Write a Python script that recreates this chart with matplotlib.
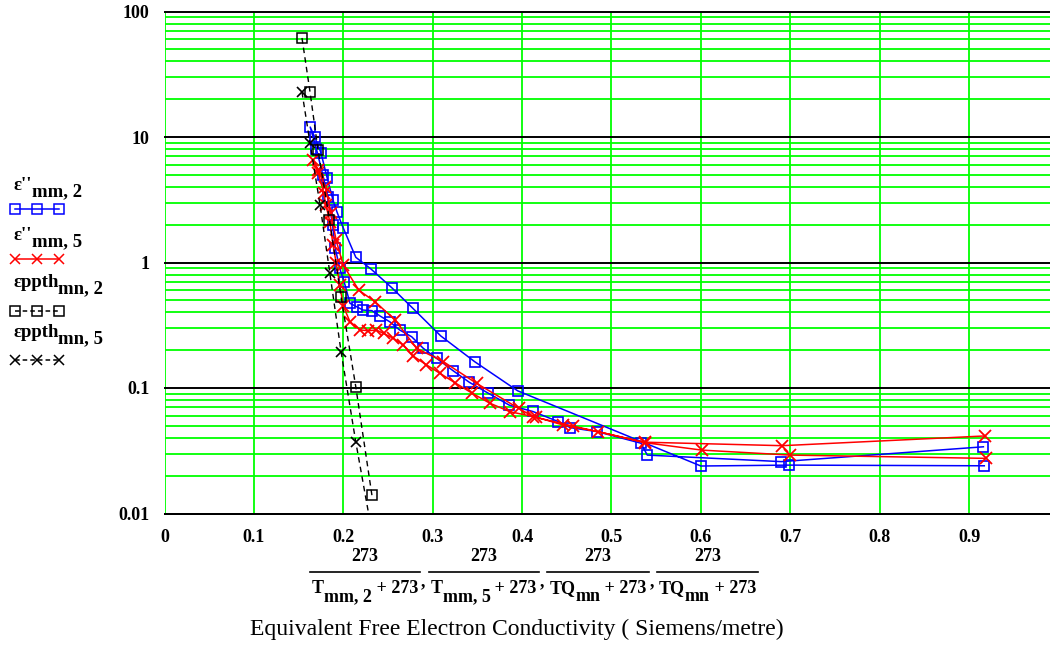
import matplotlib.pyplot as plt
from matplotlib.lines import Line2D
from matplotlib.ticker import FixedLocator, NullFormatter, NullLocator

W, H = 1050, 655

# --- DATA ---
# eps''_mm,2 : one trace, heating branch then cooling branch
blue_x = [0.917, 0.699, 0.600, 0.395, 0.347, 0.309, 0.278, 0.2545, 0.231, 0.214, 0.200,
          0.193, 0.1885, 0.182, 0.175, 0.168, 0.163,
          0.170, 0.177, 0.183, 0.188, 0.191, 0.196, 0.201, 0.2075, 0.215, 0.222, 0.232,
          0.241, 0.252, 0.263, 0.2765, 0.2895, 0.3045, 0.323, 0.341, 0.362, 0.3857,
          0.412, 0.4405, 0.454, 0.484, 0.533, 0.540, 0.690, 0.916]
blue_y = [0.024, 0.0243, 0.0239, 0.095, 0.162, 0.26, 0.43, 0.627, 0.887, 1.1, 1.88,
          2.52, 3.14, 4.7, 7.5, 10, 12,
          8, 5, 3.3, 2.0, 1.3, 0.9, 0.70, 0.473, 0.444, 0.418, 0.413,
          0.375, 0.337, 0.29, 0.256, 0.207, 0.172, 0.137, 0.111, 0.091, 0.073,
          0.065, 0.054, 0.0483, 0.0449, 0.0363, 0.0292, 0.0259, 0.034]

# eps''_mm,5
red_x = [0.918, 0.691, 0.537, 0.457, 0.4125, 0.396, 0.349, 0.312, 0.282, 0.258, 0.2355,
         0.2175, 0.200, 0.192, 0.186, 0.180, 0.172, 0.166,
         0.172, 0.178, 0.1806, 0.185, 0.1885, 0.192, 0.196, 0.200, 0.2075, 0.219, 0.228,
         0.237, 0.245, 0.256, 0.267, 0.278, 0.293, 0.308, 0.325, 0.344, 0.364, 0.3865,
         0.416, 0.446, 0.485, 0.537, 0.601, 0.700, 0.919]
red_y = [0.0415, 0.0347, 0.037, 0.0497, 0.059, 0.069, 0.109, 0.162, 0.207, 0.348, 0.487,
         0.60, 0.95, 1.5, 2.5, 4.0, 5.5, 6.6,
         5.2, 3.6, 2.87, 2.1, 1.38, 1.0, 0.66, 0.45, 0.337, 0.29, 0.286,
         0.29, 0.272, 0.249, 0.22, 0.18, 0.153, 0.131, 0.110, 0.091, 0.0756, 0.0647,
         0.0585, 0.0507, 0.0449, 0.0367, 0.032, 0.0292, 0.0275]

# eppth_mn,2 and eppth_mn,5
pth2_x = [0.1538, 0.1628, 0.1717, 0.1845, 0.1975, 0.214, 0.232]
pth2_y = [61.5, 22.8, 7.9, 2.2, 0.53, 0.102, 0.014]
pth5_x = [0.1538, 0.1628, 0.174, 0.185, 0.1975, 0.214, 0.233]
pth5_y = [22.8, 8.9, 2.87, 0.82, 0.195, 0.037, 0.0065]

x_ticks = [0, 0.1, 0.2, 0.3, 0.4, 0.5, 0.6, 0.7, 0.8, 0.9]
x_labels = ['0', '0.1', '0.2', '0.3', '0.4', '0.5', '0.6', '0.7', '0.8', '0.9']
y_ticks = [0.01, 0.1, 1, 10, 100]
y_labels = ['0.01', '0.1', '1', '10', '100']

SERIF = 'Liberation Serif'
GREEN = '#00ff00'


def fx(px):
    return px / W


def fy(py):
    return 1 - py / H


fig = plt.figure(figsize=(W / 100, H / 100), dpi=100)
ax = fig.add_axes([fx(164.5), fy(513.5), 1 - fx(164.5), fy(11.5) - fy(513.5)])
ax.set_yscale('log')
ax.set_xlim(0, 0.9905)
ax.set_ylim(0.01, 100)

# grid: green minor lines, black decade lines
minor = [m * 10.0 ** e for e in range(-2, 2) for m in range(2, 10)]
for v in minor:
    ax.axhline(v, color=GREEN, lw=1.3, zorder=1)
for v in x_ticks:
    ax.axvline(v, color=GREEN, lw=1.3, zorder=1)
for v in y_ticks:
    ax.axhline(v, color='black', lw=1.4, zorder=2, clip_on=False)

for s in ['left', 'right', 'top']:
    ax.spines[s].set_visible(False)
ax.spines['bottom'].set_linewidth(1.4)

ax.xaxis.set_major_locator(FixedLocator(x_ticks))
ax.set_xticklabels(x_labels)
ax.yaxis.set_major_locator(FixedLocator(y_ticks))
ax.set_yticklabels(y_labels)
ax.yaxis.set_minor_locator(NullLocator())
ax.yaxis.set_minor_formatter(NullFormatter())
ax.tick_params(length=0, labelsize=13)
ax.tick_params(axis='x', pad=11)
ax.tick_params(axis='y', pad=11)
for lab in ax.get_xticklabels() + ax.get_yticklabels():
    lab.set_fontfamily(SERIF)
    lab.set_fontweight('bold')

# data
ax.plot(blue_x, blue_y, color='blue', lw=1.1, marker='s', ms=7.5, mfc='none', mew=1.2, zorder=5)
ax.plot(red_x, red_y, color='red', lw=1.1, marker='x', ms=8, mew=1.3, zorder=6)
ax.plot(pth2_x, pth2_y, color='black', lw=1.0, ls=(0, (4, 3)), marker='s', ms=7, mfc='none', mew=1.1, zorder=7)
ax.plot(pth5_x, pth5_y, color='black', lw=1.0, ls=(0, (4, 3)), marker='x', ms=7.5, mew=1.2, zorder=7)

renderer = fig.canvas.get_renderer()


def chain(x, y, pieces, size=13, weight='bold'):
    # write pieces one after another; dy = baseline drop in pixels (subscripts)
    cur = x
    for txt, dy in pieces:
        t = fig.text(fx(cur), fy(y + dy), txt, fontsize=size, family=SERIF,
                     weight=weight, va='baseline', ha='left')
        cur = t.get_window_extent(renderer=renderer).x1
    return cur


# legend on the left
legend = [
    ("ε''", 'mm, 2', 190, 209, dict(color='blue', ls='-', marker='s', mfc='none')),
    ("ε''", 'mm, 5', 240, 259, dict(color='red', ls='-', marker='x')),
    ('εppth', 'mn, 2', 287, 311, dict(color='black', ls=(0, (3, 2)), marker='s', mfc='none')),
    ('εppth', 'mn, 5', 337, 360, dict(color='black', ls=(0, (3, 2)), marker='x')),
]
for main, sub, ty, ly, st in legend:
    chain(13, ty, [(main, 0), (sub, 6)], size=13.5)
    fig.add_artist(Line2D([fx(15), fx(37), fx(59)], [fy(ly)] * 3, lw=1.1, ms=7,
                          mew=1.1, transform=fig.transFigure, **st))

# x axis label: four fractions side by side
denoms = [('T', 'mm, 2'), ('T', 'mm, 5'), ('TQ', 'mn'), ('TQ', 'mn')]
start = 312
for i, (base, sub) in enumerate(denoms):
    end = chain(start, 593, [(base, 0), (sub, 8), (' + 273', 0)], size=13)
    mid = (start + end) / 2
    fig.text(fx(mid), fy(561), '273', fontsize=13, family=SERIF,
             weight='bold', ha='center', va='baseline')
    fig.add_artist(Line2D([fx(start - 2), fx(end + 2)], [fy(572), fy(572)],
                          color='black', lw=1.2, transform=fig.transFigure))
    start = end + 3
    if i < 3:
        c = fig.text(fx(start), fy(586), ',', fontsize=13, family=SERIF, weight='bold',
                     ha='left', va='baseline')
        start = c.get_window_extent(renderer=renderer).x1 + 5

fig.text(fx(517), fy(635), 'Equivalent Free Electron Conductivity ( Siemens/metre)',
         fontsize=17, family=SERIF, ha='center', va='baseline')

fig.savefig('out.png', dpi=100)
